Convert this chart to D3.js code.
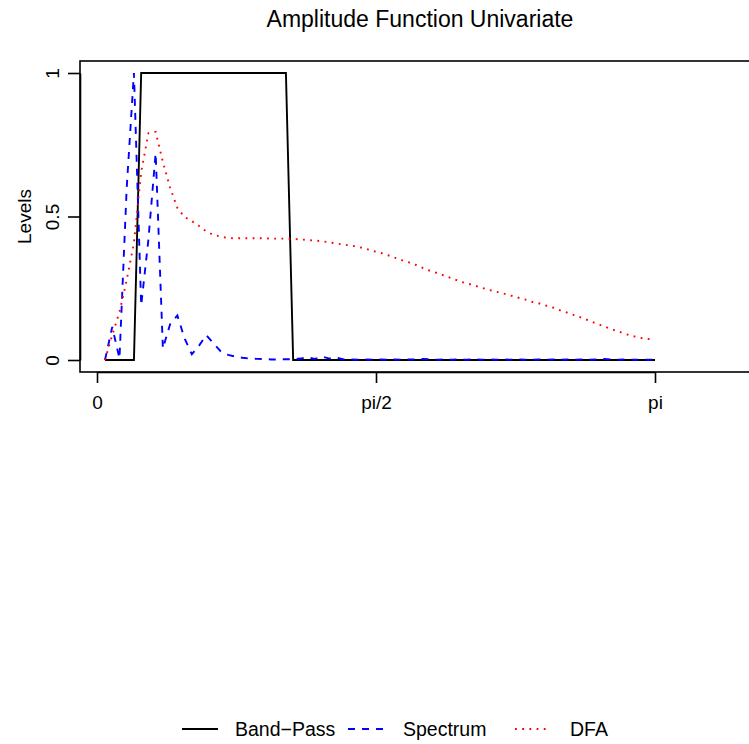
<!DOCTYPE html>
<html>
<head>
<meta charset="utf-8">
<script src="https://cdn.jsdelivr.net/npm/d3@7"></script>
<style>
  body { margin: 0; background: #fff; }
  svg { display: block; font-family: "Liberation Sans", Arial, sans-serif; }
</style>
</head>
<body>
<div id="chart"></div>
<script>
// data (77 frequency ordinates, first one just above 0, last one at pi)
var nFreq = 77;
var firstFreq = 0.045;
var bandPass = [0, 0, 0, 0, 0, 1, 1, 1, 1, 1, 1, 1, 1, 1, 1, 1, 1, 1, 1, 1, 1, 1, 1, 1, 1, 1,
  0, 0, 0, 0, 0, 0, 0, 0, 0, 0, 0, 0, 0, 0, 0, 0, 0, 0, 0, 0, 0, 0, 0, 0, 0, 0, 0, 0, 0, 0,
  0, 0, 0, 0, 0, 0, 0, 0, 0, 0, 0, 0, 0, 0, 0, 0, 0, 0, 0, 0, 0];
var spectrum = [0, 0.115, 0.005, 0.6, 1.0, 0.19, 0.42, 0.72, 0.04, 0.125, 0.155, 0.075, 0.02,
  0.05, 0.087, 0.058, 0.03, 0.018, 0.012, 0.008, 0.005, 0.004, 0.003, 0.002, 0.002, 0.003,
  0.002, 0.005, 0.009, 0.004, 0.012, 0.005, 0.008, 0.002, 0.002, 0.001, 0.002, 0.001, 0.002,
  0.001, 0.002, 0.001, 0.002, 0.002, 0.004, 0.002, 0.001, 0.002, 0.001, 0.002, 0.001, 0.002,
  0.001, 0.002, 0.001, 0.002, 0.001, 0.002, 0.001, 0.001, 0.002, 0.001, 0.002, 0.001, 0.002,
  0.001, 0.002, 0.001, 0.002, 0.004, 0.002, 0.001, 0.002, 0.001, 0.001, 0.001, 0.001];
var dfa = [0, 0.087, 0.167, 0.279, 0.408, 0.655, 0.79, 0.795, 0.69, 0.6, 0.53, 0.498, 0.484,
  0.467, 0.448, 0.436, 0.43, 0.425, 0.424, 0.424, 0.424, 0.424, 0.424, 0.423, 0.423, 0.423,
  0.422, 0.42, 0.418, 0.416, 0.414, 0.41, 0.406, 0.402, 0.399, 0.394, 0.388, 0.38, 0.374,
  0.366, 0.357, 0.348, 0.34, 0.331, 0.32, 0.31, 0.302, 0.293, 0.284, 0.274, 0.267, 0.26,
  0.252, 0.245, 0.238, 0.232, 0.225, 0.218, 0.211, 0.203, 0.197, 0.189, 0.182, 0.172, 0.164,
  0.155, 0.146, 0.136, 0.126, 0.117, 0.107, 0.099, 0.09, 0.083, 0.077, 0.073, 0.072];
var xTicks = [0, Math.PI / 2, Math.PI];
var xTickLabels = ['0', 'pi/2', 'pi'];
var yTicks = [0, 0.5, 1];
var yTickLabels = ['0', '0.5', '1'];
var seriesNames = ['Band\u2212Pass', 'Spectrum', 'DFA'];
var seriesColors = ['#000000', '#0000ff', '#ff0000'];
var seriesDash = [null, '7,7', '1.8,5.4'];
//end data

var width = 749, height = 744;
var svg = d3.select('#chart').append('svg')
  .attr('width', width)
  .attr('height', height);

// plot box (right side runs off the picture like the reference)
var box = { left: 80, top: 61, right: 800, bottom: 372 };

var x = d3.scaleLinear().domain([0, Math.PI]).range([97, 655]);
var y = d3.scaleLinear().domain([0, 1]).range([360, 73]);

var freqs = d3.range(nFreq).map(function (i) {
  return firstFreq + i * (Math.PI - firstFreq) / (nFreq - 1);
});

var lineFunc = d3.line()
  .x(function (d, i) { return x(freqs[i]); })
  .y(function (d) { return y(d); });

var gLines = svg.append('g').attr('class', 'lines');
[bandPass, spectrum, dfa].forEach(function (s, k) {
  gLines.append('path')
    .datum(s)
    .attr('d', lineFunc)
    .attr('fill', 'none')
    .attr('stroke', seriesColors[k])
    .attr('stroke-width', k === 0 ? 1.9 : 1.9)
    .attr('stroke-dasharray', seriesDash[k]);
});

svg.append('rect')
  .attr('x', box.left)
  .attr('y', box.top)
  .attr('width', box.right - box.left)
  .attr('height', box.bottom - box.top)
  .attr('fill', 'none')
  .attr('stroke', '#000')
  .attr('stroke-width', 1.6);

// x axis
var xAxis = svg.append('g')
  .attr('transform', 'translate(0,' + box.bottom + ')')
  .call(d3.axisBottom(x)
    .tickValues(xTicks)
    .tickFormat(function (d, i) { return xTickLabels[i]; })
    .tickSize(11)
    .tickSizeOuter(0)
    .tickPadding(13));
xAxis.select('.domain').attr('stroke-width', 1.6);
xAxis.selectAll('.tick line').attr('stroke-width', 1.6);
xAxis.selectAll('text')
  .attr('font-size', 19)
  .attr('font-family', '"Liberation Sans", Arial, sans-serif')
  .attr('fill', '#000');

// y axis, labels turned like R's las=0
var yAxis = svg.append('g')
  .attr('transform', 'translate(' + box.left + ',0)')
  .call(d3.axisLeft(y)
    .tickValues(yTicks)
    .tickFormat(function (d, i) { return yTickLabels[i]; })
    .tickSize(12)
    .tickSizeOuter(0));
yAxis.select('.domain').attr('stroke-width', 1.6);
yAxis.selectAll('.tick line').attr('stroke-width', 1.6);
yAxis.selectAll('text')
  .attr('x', null)
  .attr('dy', null)
  .attr('text-anchor', 'middle')
  .attr('transform', 'translate(-21,0) rotate(-90)')
  .attr('font-size', 19)
  .attr('font-family', '"Liberation Sans", Arial, sans-serif')
  .attr('fill', '#000');

svg.append('text')
  .attr('transform', 'translate(31,' + y(0.5) + ') rotate(-90)')
  .attr('text-anchor', 'middle')
  .attr('font-size', 19)
  .text('Levels');

svg.append('text')
  .attr('x', 420)
  .attr('y', 27)
  .attr('text-anchor', 'middle')
  .attr('font-size', 23)
  .text('Amplitude Function Univariate');

// legend along the bottom
var legendY = 729;
var legendLineX = [182, 348, 515];
var legendTextX = [235, 403, 570];
var gLegend = svg.append('g').attr('class', 'legend');
seriesNames.forEach(function (name, k) {
  gLegend.append('line')
    .attr('x1', legendLineX[k])
    .attr('x2', legendLineX[k] + 36)
    .attr('y1', legendY)
    .attr('y2', legendY)
    .attr('stroke', seriesColors[k])
    .attr('stroke-width', 1.9)
    .attr('stroke-dasharray', seriesDash[k]);
  gLegend.append('text')
    .attr('x', legendTextX[k])
    .attr('y', legendY)
    .attr('dy', '0.36em')
    .attr('font-size', 19.5)
    .text(name);
});
</script>
</body>
</html>
